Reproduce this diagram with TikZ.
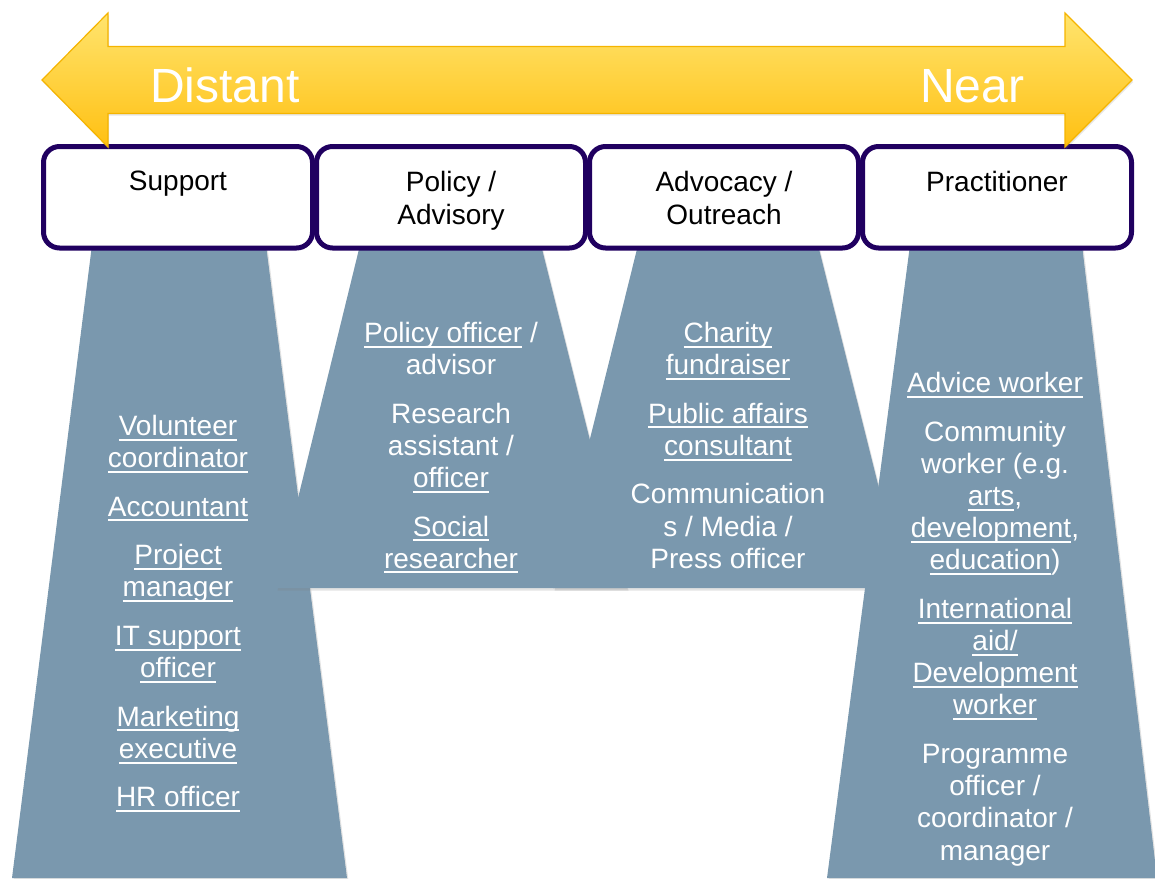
\documentclass[tikz,border=0pt]{standalone}
\usepackage{fontspec}
\setmainfont{Liberation Sans}
\usetikzlibrary{shadows}
\definecolor{trapblue}{HTML}{7A98AE}
\definecolor{boxline}{HTML}{200060}
\definecolor{arrowtop}{HTML}{FFE46E}
\definecolor{arrowbot}{HTML}{FFC012}
\definecolor{arrowline}{HTML}{F5B400}
\newcommand\lnk[1]{\setbox0\hbox{#1}\rlap{\vrule height -3.2pt depth 5.2pt width \wd0}\box0\relax}
\begin{document}
\begin{tikzpicture}[x=1pt,y=-1pt,
  trap/.style={fill=trapblue, draw=none, drop shadow={shadow xshift=1.5pt, shadow yshift=-2.5pt, opacity=0.22}},
  headbox/.style={draw=boxline, line width=5pt, fill=white, rounded corners=16pt, minimum width=269pt, minimum height=101.5pt, inner sep=0pt},
  headtext/.style={font=\fontsize{28}{33}\selectfont, align=center, inner sep=0pt, anchor=north, text=black},
  bodytext/.style={font=\fontsize{28}{32.2}\selectfont, align=center, inner sep=0pt, anchor=north, text=white},
  bigtext/.style={font=\fontsize{48}{56}\selectfont, text=white, inner sep=0pt, anchor=base west},
  bigarrow/.style={top color=arrowtop, bottom color=arrowbot, draw=arrowline, line width=1.2pt, drop shadow={opacity=0.2, shadow xshift=1pt, shadow yshift=-2pt}}]
\useasboundingbox (0,0) rectangle (1155,878);
% trapezoids
\path[trap] (92,245) -- (266,245) -- (347,878) -- (12,878) -- cycle;
\path[trap] (360,245) -- (541,245) -- (627,588) -- (276,588) -- cycle;
\path[trap] (638,245) -- (818,245) -- (904,588) -- (553,588) -- cycle;
\path[trap] (910,245) -- (1082,245) -- (1157,878) -- (827,878) -- cycle;
% header boxes
\node[headbox] (b1) at (178,197.25) {};
\node[headbox] (b2) at (451,197.25) {};
\node[headbox] (b3) at (724,197.25) {};
\node[headbox] (b4) at (997,197.25) {};
\node[headtext] (t1) at (178,171) {Support};
\node[headtext] (t2) at (451,171) {Policy /\\Advisory};
\node[headtext] (t3) at (724,171) {Advocacy /\\Outreach};
\node[headtext] (t4) at (997,171) {Practitioner};
% arrow
\path[bigarrow] (42,80) -- (108,13) -- (108,46.5) -- (1065,46.5) -- (1065,13) -- (1132,80) -- (1065,147) -- (1065,113.5) -- (108,113.5) -- (108,147) -- cycle;
\node[bigtext] (distant) at (150,102) {Distant};
\node[bigtext] (near) at (920,102) {Near};
% body texts
\node[bodytext] (l1) at (178,415) {\lnk{Volunteer}\\\lnk{coordinator}\\[16.3pt]\lnk{Accountant}\\[16.3pt]\lnk{Project}\\\lnk{manager}\\[16.3pt]\lnk{IT support}\\\lnk{officer}\\[16.3pt]\lnk{Marketing}\\\lnk{executive}\\[16.3pt]\lnk{HR officer}};
\node[bodytext] (l2) at (451,322) {\lnk{Policy officer} /\\advisor\\[16.3pt]Research\\assistant /\\\lnk{officer}\\[16.3pt]\lnk{Social}\\\lnk{researcher}};
\node[bodytext] (l3) at (728,322) {\lnk{Charity}\\\lnk{fundraiser}\\[16.3pt]\lnk{Public affairs}\\\lnk{consultant}\\[16.3pt]Communication\\s / Media /\\Press officer};
\node[bodytext] (l4) at (995,372) {\lnk{Advice worker}\\[16.3pt]Community\\worker (e.g.\\\lnk{arts},\\\lnk{development},\\\lnk{education})\\[16.3pt]\lnk{International}\\\lnk{aid/}\\\lnk{Development}\\\lnk{worker}\\[16.3pt]Programme\\officer /\\coordinator /\\manager};
\end{tikzpicture}
\end{document}
